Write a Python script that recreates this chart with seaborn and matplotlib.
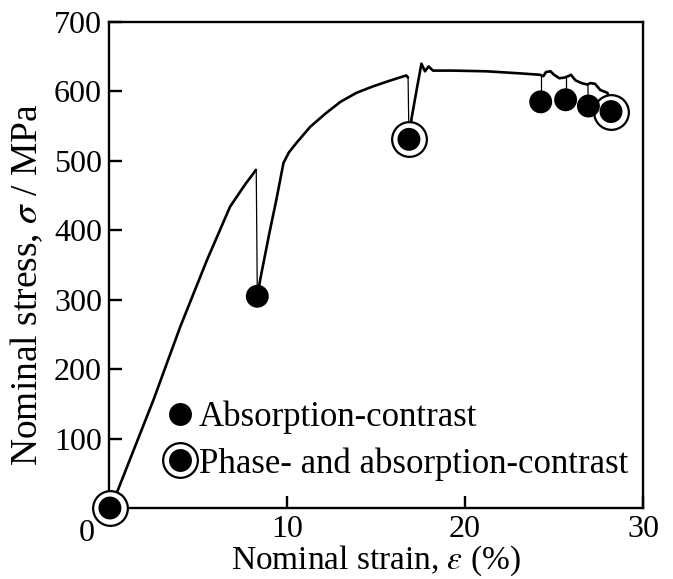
import numpy as np
import pandas as pd
import matplotlib
matplotlib.use("Agg")
import matplotlib.pyplot as plt
import seaborn as sns
from matplotlib.lines import Line2D
from matplotlib.legend_handler import HandlerTuple

# stress-strain curve, split into loading segments
seg0_strain = [0.1, 2.5, 4.0, 5.5, 6.8, 7.3, 7.7, 8.0, 8.25]
seg0_stress = [0, 156, 261, 357, 434, 453, 468, 478, 487]

seg1_strain = [8.33, 8.5, 9.0, 9.4, 9.8, 10.1, 10.5, 11.3, 12.2, 13.0, 13.9,
               14.8, 15.6, 16.2, 16.7, 16.8]
seg1_stress = [305, 330, 395, 444, 497, 512, 525, 549, 569, 585, 598,
               607, 614, 619, 623, 620]

seg2_strain = [16.85, 17.0, 17.3, 17.55, 17.75, 17.95, 18.2, 19.3, 21.2, 23.1,
               24.2, 24.4, 24.55, 24.8, 25.0, 25.3, 25.6, 25.8, 25.95, 26.2,
               26.55, 26.85, 27.05, 27.3, 27.6, 28.0, 28.2]
seg2_stress = [530, 562, 605, 640, 629, 636, 630, 630, 629, 626,
               624, 622, 628, 629, 624, 619, 620, 622, 624, 616,
               612, 610, 612, 611, 602, 598, 580]

# thin unloading lines: top of the drop -> measurement point
unload_top_strain = [8.27, 16.8, 24.25, 25.65, 26.9]
unload_top_stress = [487, 620, 622, 620, 610]
unload_end_strain = [8.33, 16.85, 24.25, 25.65, 26.93]
unload_end_stress = [305, 530, 585, 588, 579]

# measurement points
abs_strain = [8.33, 24.25, 25.65, 26.93]
abs_stress = [305, 585, 588, 579]
phase_strain = [0.05, 16.85, 28.2]
phase_stress = [0, 531, 571]

sns.set_theme(style="ticks")
plt.rcParams["font.family"] = ["Liberation Serif", "DejaVu Serif"]
plt.rcParams["mathtext.fontset"] = "stix"
plt.rcParams["text.color"] = "black"
plt.rcParams["axes.labelcolor"] = "black"
plt.rcParams["xtick.color"] = "black"
plt.rcParams["ytick.color"] = "black"

fig = plt.figure(figsize=(6.73, 5.79), dpi=100)
ax = fig.add_axes([0.162, 0.1226, 0.7935, 0.8394])

curve = pd.DataFrame({
    "strain": seg0_strain + seg1_strain + seg2_strain,
    "stress": seg0_stress + seg1_stress + seg2_stress,
    "seg": [0] * len(seg0_strain) + [1] * len(seg1_strain) + [2] * len(seg2_strain),
})
sns.lineplot(data=curve, x="strain", y="stress", units="seg", estimator=None,
             sort=False, color="black", lw=1.9, ax=ax, legend=False)

unload = pd.DataFrame({
    "strain": unload_top_strain + unload_end_strain,
    "stress": unload_top_stress + unload_end_stress,
    "seg": list(range(len(unload_top_strain))) * 2,
})
sns.lineplot(data=unload, x="strain", y="stress", units="seg", estimator=None,
             sort=False, color="black", lw=0.9, ax=ax, legend=False)

# phase-contrast points: black dot with white ring and black outer ring
ax.scatter(phase_strain, phase_stress, s=25 ** 2, facecolor="white",
           edgecolor="black", linewidth=1.6, zorder=4, clip_on=False)
sns.scatterplot(x=phase_strain, y=phase_stress, s=16.5 ** 2, color="black",
                edgecolor="none", zorder=5, ax=ax, clip_on=False, legend=False)
sns.scatterplot(x=abs_strain, y=abs_stress, s=16.5 ** 2, color="black",
                edgecolor="none", zorder=5, ax=ax, legend=False)

ax.set_xlim(0, 30)
ax.set_ylim(0, 700)
ax.set_xticks([10, 20, 30])
ax.set_yticks([100, 200, 300, 400, 500, 600, 700])
ax.tick_params(direction="in", length=9, width=1.7, labelsize=23, pad=5,
               top=False, right=False)
for sp in ax.spines.values():
    sp.set_linewidth(1.7)
    sp.set_color("black")
ax.text(-0.041, -0.052, "0", transform=ax.transAxes, ha="center", va="center",
        fontsize=23)

ax.set_xlabel(r"Nominal strain, $\varepsilon$ (%)", fontsize=24, labelpad=0)
ax.set_ylabel(r"Nominal stress, $\sigma$ / MPa", fontsize=27)
ax.yaxis.set_label_coords(-0.12, 0.46)

h_abs = Line2D([], [], marker="o", ls="", color="black", markersize=16.5,
               markeredgewidth=0)
h_ring = Line2D([], [], marker="o", ls="", markerfacecolor="white",
                markeredgecolor="black", markersize=25, markeredgewidth=1.6)
h_dot = Line2D([], [], marker="o", ls="", color="black", markersize=16.5,
               markeredgewidth=0)
ax.legend([h_abs, (h_ring, h_dot)],
          ["Absorption-contrast", "Phase- and absorption-contrast"],
          handler_map={tuple: HandlerTuple(ndivide=1)},
          loc="upper left", bbox_to_anchor=(0.08, 0.25), borderaxespad=0,
          frameon=False, fontsize=25, handlelength=0.8, handletextpad=0.15,
          labelspacing=0.38)

fig.savefig("out.png", dpi=100)
